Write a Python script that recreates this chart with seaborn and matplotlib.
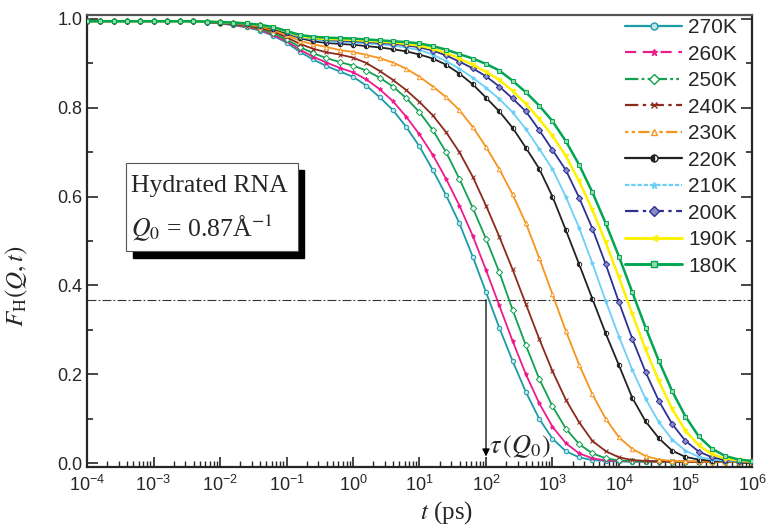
import numpy as np
import pandas as pd
import matplotlib
matplotlib.use("Agg")
import matplotlib.pyplot as plt
import seaborn as sns
from matplotlib.lines import Line2D
from matplotlib.patches import Rectangle
from matplotlib.ticker import FixedLocator, MultipleLocator, NullFormatter

# log10 of time (ps), one sample every 0.2 decade
log_t = [-4.0, -3.8, -3.6, -3.4, -3.2, -3.0, -2.8, -2.6, -2.4, -2.2,
         -2.0, -1.8, -1.6, -1.4, -1.2, -1.0, -0.8, -0.6, -0.4, -0.2,
         0.0, 0.2, 0.4, 0.6, 0.8, 1.0, 1.2, 1.4, 1.6, 1.8,
         2.0, 2.2, 2.4, 2.6, 2.8, 3.0, 3.2, 3.4, 3.6, 3.8,
         4.0, 4.2, 4.4, 4.6, 4.8, 5.0, 5.2, 5.4, 5.6, 5.8, 6.0]

F_270 = [0.995, 0.995, 0.995, 0.995, 0.995, 0.995, 0.995, 0.995, 0.995,
         0.993, 0.990, 0.986, 0.981, 0.974, 0.962, 0.947, 0.926, 0.909, 0.894,
         0.882, 0.870, 0.850, 0.824, 0.795, 0.757, 0.713, 0.660, 0.603, 0.540, 0.465,
         0.385, 0.305, 0.230, 0.160, 0.100, 0.055, 0.027, 0.013, 0.007, 0.005, 0.004,
         0.003, 0.003, 0.003, 0.003, 0.003, 0.003, 0.003, 0.003, 0.003, 0.003]
F_260 = [0.995, 0.995, 0.995, 0.995, 0.995, 0.995, 0.995, 0.995, 0.995,
         0.993, 0.990, 0.987, 0.982, 0.976, 0.964, 0.950, 0.931, 0.915, 0.902,
         0.890, 0.880, 0.864, 0.842, 0.815, 0.780, 0.740, 0.694, 0.640, 0.580, 0.512,
         0.435, 0.355, 0.275, 0.200, 0.135, 0.082, 0.045, 0.022, 0.011, 0.006, 0.005,
         0.004, 0.004, 0.003, 0.003, 0.003, 0.003, 0.003, 0.003, 0.003, 0.003]
F_250 = [0.995, 0.995, 0.995, 0.995, 0.995, 0.995, 0.995, 0.995, 0.995,
         0.993, 0.991, 0.988, 0.984, 0.978, 0.968, 0.954, 0.937, 0.923, 0.912,
         0.903, 0.895, 0.884, 0.868, 0.848, 0.822, 0.790, 0.750, 0.700, 0.640, 0.575,
         0.505, 0.430, 0.345, 0.265, 0.190, 0.128, 0.078, 0.043, 0.022, 0.011, 0.006,
         0.005, 0.004, 0.004, 0.003, 0.003, 0.003, 0.003, 0.003, 0.003, 0.003]
F_240 = [0.995, 0.995, 0.995, 0.995, 0.995, 0.995, 0.995, 0.995, 0.995,
         0.993, 0.991, 0.989, 0.985, 0.980, 0.972, 0.959, 0.944, 0.933, 0.925,
         0.920, 0.913, 0.901, 0.883, 0.863, 0.840, 0.813, 0.783, 0.745, 0.700, 0.645,
         0.580, 0.510, 0.436, 0.358, 0.280, 0.207, 0.143, 0.092, 0.050, 0.027, 0.013,
         0.007, 0.005, 0.004, 0.004, 0.003, 0.003, 0.003, 0.003, 0.003, 0.003]
F_230 = [0.995, 0.995, 0.995, 0.995, 0.995, 0.995, 0.995, 0.995, 0.995,
         0.994, 0.992, 0.990, 0.987, 0.983, 0.975, 0.964, 0.951, 0.943, 0.937,
         0.930, 0.926, 0.919, 0.912, 0.902, 0.888, 0.870, 0.848, 0.824, 0.795, 0.757,
         0.712, 0.662, 0.605, 0.540, 0.462, 0.380, 0.298, 0.222, 0.155, 0.100, 0.058,
         0.032, 0.016, 0.008, 0.005, 0.004, 0.004, 0.003, 0.003, 0.003, 0.003]
F_220 = [0.995, 0.995, 0.995, 0.995, 0.995, 0.995, 0.995, 0.995, 0.995,
         0.994, 0.992, 0.991, 0.988, 0.985, 0.978, 0.968, 0.957, 0.950, 0.946,
         0.944, 0.942, 0.939, 0.936, 0.932, 0.927, 0.920, 0.911, 0.897, 0.877, 0.853,
         0.823, 0.792, 0.755, 0.710, 0.663, 0.600, 0.525, 0.448, 0.370, 0.292, 0.220,
         0.147, 0.094, 0.056, 0.028, 0.014, 0.008, 0.005, 0.004, 0.004, 0.004]
F_210 = [0.995, 0.995, 0.995, 0.995, 0.995, 0.995, 0.995, 0.995, 0.995,
         0.994, 0.993, 0.991, 0.989, 0.985, 0.980, 0.970, 0.959, 0.954, 0.950,
         0.948, 0.947, 0.945, 0.943, 0.940, 0.936, 0.930, 0.920, 0.905, 0.888, 0.868,
         0.845, 0.820, 0.790, 0.752, 0.708, 0.662, 0.600, 0.530, 0.450, 0.365, 0.285,
         0.210, 0.145, 0.092, 0.053, 0.028, 0.014, 0.008, 0.005, 0.004, 0.004]
F_200 = [0.995, 0.995, 0.995, 0.995, 0.995, 0.995, 0.995, 0.995, 0.995,
         0.994, 0.993, 0.992, 0.989, 0.986, 0.980, 0.971, 0.961, 0.956, 0.953,
         0.951, 0.950, 0.948, 0.946, 0.944, 0.941, 0.936, 0.929, 0.918, 0.904, 0.889,
         0.871, 0.848, 0.821, 0.792, 0.750, 0.705, 0.660, 0.598, 0.528, 0.448, 0.362,
         0.280, 0.205, 0.140, 0.088, 0.050, 0.026, 0.013, 0.007, 0.005, 0.004]
F_190 = [0.995, 0.995, 0.995, 0.995, 0.995, 0.995, 0.995, 0.995, 0.995,
         0.994, 0.993, 0.992, 0.990, 0.986, 0.981, 0.972, 0.962, 0.957, 0.955,
         0.954, 0.953, 0.951, 0.949, 0.947, 0.944, 0.940, 0.933, 0.924, 0.911, 0.897,
         0.881, 0.863, 0.838, 0.809, 0.775, 0.737, 0.692, 0.635, 0.570, 0.497, 0.418,
         0.336, 0.256, 0.185, 0.122, 0.073, 0.040, 0.020, 0.010, 0.006, 0.004]
F_180 = [0.995, 0.995, 0.995, 0.995, 0.995, 0.995, 0.995, 0.995, 0.995,
         0.994, 0.993, 0.992, 0.990, 0.987, 0.982, 0.973, 0.964, 0.960, 0.958,
         0.957, 0.956, 0.954, 0.952, 0.950, 0.948, 0.945, 0.939, 0.931, 0.921, 0.911,
         0.899, 0.884, 0.861, 0.835, 0.805, 0.770, 0.725, 0.672, 0.610, 0.540, 0.465,
         0.385, 0.305, 0.230, 0.162, 0.105, 0.060, 0.032, 0.016, 0.008, 0.005]

labels = ["270K", "260K", "250K", "240K", "230K", "220K", "210K", "200K", "190K", "180K"]
series = [F_270, F_260, F_250, F_240, F_230, F_220, F_210, F_200, F_190, F_180]

tau_level = 0.368   # 1/e line
tau_t = 100.0       # tau(Q0) marked by the arrow

# colour, plot marker, legend marker, legend linestyle, lw, marker face
styles = {
    "270K": ("#1b9ba8", "o", "o", "-", 1.3, "#bfe6ea"),
    "260K": ("#ec1c8c", "*", "*", (0, (5, 3)), 1.3, "#ec1c8c"),
    "250K": ("#12a150", "D", "D", (0, (6, 1.5, 1.2, 1.5, 1.2, 1.5)), 1.3, "white"),
    "240K": ("#8c2a1c", "x", "x", (0, (6, 2, 1.5, 2)), 1.3, "#c89090"),
    "230K": ("#f7941d", "^", "^", (0, (1.5, 1.5, 1.5, 1.5, 5, 1.5)), 1.3, "white"),
    "220K": ("#222222", "o", "o", "-", 1.3, "#222222"),
    "210K": ("#6dcff6", "*", "*", (0, (2, 0.8)), 1.3, "#6dcff6"),
    "200K": ("#2e3192", "D", "D", (0, (6, 2, 1.5, 2)), 1.3, "#8a8cc8"),
    "190K": ("#fff200", "v", "<", "-", 1.8, "#fff200"),
    "180K": ("#00a651", "s", "s", "-", 1.8, "#9ad8b0"),
}

df = pd.DataFrame({"t": 10.0 ** np.array(log_t)})
for lab, vals in zip(labels, series):
    df[lab] = vals
long_df = df.melt(id_vars="t", var_name="T", value_name="F")

sns.set_style("ticks")
plt.rcParams['font.family'] = ['Liberation Sans', 'DejaVu Sans']
plt.rcParams['mathtext.fontset'] = 'stix'

fig = plt.figure(figsize=(7.66, 5.28), dpi=100)
ax = fig.add_axes([0.1136, 0.1161, 0.8681, 0.8555])

handles = []
for lab in labels:
    col, mk, lmk, ls, lw, mfc = styles[lab]
    sub = long_df[long_df["T"] == lab]
    fill = "left" if lab == "220K" else "full"
    sns.lineplot(data=sub, x="t", y="F", ax=ax, color=col, lw=lw,
                 marker=mk, markersize=3.2, markerfacecolor=mfc,
                 markerfacecoloralt="white", markeredgecolor=col,
                 markeredgewidth=0.7, fillstyle=fill, legend=False, zorder=3)
    handles.append(Line2D([], [], color=col, lw=lw + 0.3, ls=ls, marker=lmk,
                          markersize=5, markerfacecolor=mfc,
                          markerfacecoloralt="white", markeredgecolor=col,
                          fillstyle=fill, label=lab))

ax.set_xscale("log")
ax.set_xlim(1e-4, 1e6)
ax.set_ylim(-0.008, 1.009)

# 1/e line and arrow to tau
ax.axhline(tau_level, color="#333333", lw=0.8, ls=(0, (8, 2, 1.5, 2)), zorder=2)
ax.annotate("", xy=(tau_t, 0.015), xytext=(tau_t, tau_level),
            arrowprops=dict(arrowstyle="-|>", color="black", lw=0.9,
                            mutation_scale=11, shrinkA=0, shrinkB=0))
ax.text(112, 0.022, r"$\tau\,(Q_0)$", fontsize=19, family="Liberation Serif")

# info box with drop shadow
ax.add_patch(Rectangle((0.069, 0.462), 0.258, 0.195, transform=ax.transAxes,
                       facecolor="black", edgecolor="black", zorder=4))
ax.add_patch(Rectangle((0.0586, 0.4775), 0.2586, 0.1949, transform=ax.transAxes,
                       facecolor="white", edgecolor="#555555", lw=0.8, zorder=5))
ax.text(0.066, 0.622, "Hydrated RNA", transform=ax.transAxes, fontsize=18.5,
        family="Liberation Serif", va="center", zorder=6)
ax.text(0.066, 0.530, r"$Q_0$ = 0.87Å$^{-1}$", transform=ax.transAxes,
        fontsize=18.5, family="Liberation Serif", va="center", zorder=6)

# axes cosmetics
ax.xaxis.set_major_locator(FixedLocator([10.0 ** e for e in range(-4, 7)]))
ax.xaxis.set_minor_locator(FixedLocator([m * 10.0 ** e for e in range(-4, 6)
                                         for m in range(2, 10)]))
ax.xaxis.set_minor_formatter(NullFormatter())
ax.yaxis.set_major_locator(MultipleLocator(0.2))
ax.yaxis.set_minor_locator(MultipleLocator(0.1))
ax.tick_params(which="both", direction="in", right=True, top=False,
               labelsize=13, width=1.2)
ax.tick_params(which="major", length=8)
ax.tick_params(which="minor", length=4.5)
ax.tick_params(axis="x", which="major", length=7)
ax.tick_params(axis="x", which="minor", length=4, width=1.0)
ax.tick_params(axis="x", pad=6)
for sp in ax.spines.values():
    sp.set_linewidth(1.6)
ax.spines["top"].set_color("#555555")

ax.set_xlabel(r"$t$ (ps)", fontsize=18, family="Liberation Serif")
ax.set_ylabel(r"$F_{\mathrm{H}}(Q,t)$", fontsize=18, family="Liberation Serif")
ax.xaxis.set_label_coords(0.54, -0.072)
ax.yaxis.set_label_coords(-0.085, 0.40)

ax.legend(handles=handles, loc="upper left", bbox_to_anchor=(0.805, 1.0),
          frameon=False, fontsize=15, handlelength=2.7, handletextpad=0.3,
          labelspacing=0.36, borderpad=0.15, borderaxespad=0.0, numpoints=1)

fig.savefig("out.png", dpi=100)
